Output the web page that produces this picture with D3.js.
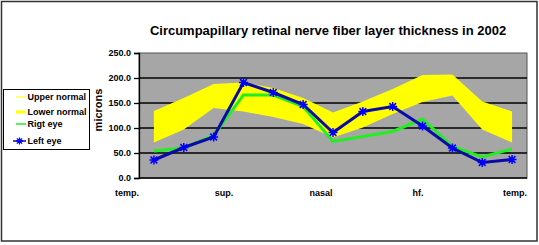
<!DOCTYPE html>
<html>
<head>
<meta charset="utf-8">
<script src="https://cdn.jsdelivr.net/npm/d3@7"></script>
<style>
  body { margin: 0; background: #fff; }
  text { font-family: "Liberation Sans", Arial, sans-serif; font-weight: bold; fill: #000; }
</style>
</head>
<body>
<svg width="539" height="245"></svg>
<script>
// sector index around the disc (13 measurement points)
const sectors = [1, 2, 3, 4, 5, 6, 7, 8, 9, 10, 11, 12, 13];
const upperNormal = [134, 160, 188, 191, 180, 160, 131, 153, 178, 206, 207, 153, 133];
const lowerNormal = [71, 97, 140, 133, 122, 108, 81, 101, 128, 152, 165, 97, 71];
const rightEye = [54, 60, 85, 166, 166, 143, 73, 83, 93, 118, 63, 42, 58];
const leftEye = [36, 61, 82, 191, 171, 147, 91, 133, 143, 104, 60, 31, 37];
const xLabels = ["temp.", "sup.", "nasal", "hf.", "temp."];
const yTicks = [0, 50, 100, 150, 200, 250];

const svg = d3.select("svg");
const plotL = 139, plotR = 527, plotT = 53, plotB = 178;

// outer chart frame
svg.append("rect")
  .attr("x", 1.5).attr("y", 1.5).attr("width", 535.5).attr("height", 239.5)
  .attr("fill", "#fff").attr("stroke", "#333").attr("stroke-width", 1.5);

let x = d3.scaleBand().domain(sectors).range([plotL, plotR]);
let y = d3.scaleLinear().domain([0, 250]).range([plotB, plotT]);
let xc = d => x(d) + x.bandwidth() / 2;

// plot area
svg.append("rect")
  .attr("x", plotL).attr("y", plotT).attr("width", plotR - plotL).attr("height", plotB - plotT)
  .attr("fill", "#a6a6a6").attr("stroke", "#555").attr("stroke-width", 1);

// gridlines
svg.append("g").selectAll("line")
  .data(yTicks.filter(d => d > 0 && d < 250))
  .enter().append("line")
  .attr("x1", plotL).attr("x2", plotR)
  .attr("y1", d => y(d)).attr("y2", d => y(d))
  .attr("stroke", "#000").attr("stroke-width", 1.3);

// normal band
let band = d3.area()
  .x((d, i) => xc(sectors[i]))
  .y0((d, i) => y(lowerNormal[i]))
  .y1(d => y(d));
svg.append("path")
  .attr("d", band(upperNormal))
  .attr("fill", "#ffff00");

// eye lines
let line = d3.line().x((d, i) => xc(sectors[i])).y(d => y(d));
svg.append("path").attr("d", line(rightEye))
  .attr("fill", "none").attr("stroke", "#22ee22").attr("stroke-width", 3);
svg.append("path").attr("d", line(leftEye))
  .attr("fill", "none").attr("stroke", "#0a0aa8").attr("stroke-width", 3);

// asterisk marker
function star(r) {
  let a = r * 0.75;
  return `M0,${-r}V${r}M${-r},0H${r}M${-a},${-a}L${a},${a}M${-a},${a}L${a},${-a}`;
}
svg.append("g").selectAll("path")
  .data(leftEye)
  .enter().append("path")
  .attr("transform", (d, i) => `translate(${xc(sectors[i])},${y(d)})`)
  .attr("d", star(4.5))
  .attr("stroke", "#0000ff").attr("stroke-width", 1.5).attr("fill", "none");

// y axis
let yAxis = d3.axisLeft(y).tickValues(yTicks).tickFormat(d3.format(".1f")).tickSize(5).tickPadding(3);
let gy = svg.append("g").attr("transform", `translate(${plotL},0)`).call(yAxis);
gy.select(".domain").attr("stroke", "#000").attr("stroke-width", 1.3);
gy.selectAll(".tick line").attr("stroke", "#000").attr("stroke-width", 1.3);
gy.selectAll("text").style("font-size", "9px").style("font-family", "Liberation Sans, Arial, sans-serif").style("font-weight", "bold").attr("fill", "#000");

// bottom axis line
svg.append("line")
  .attr("x1", plotL).attr("x2", plotR).attr("y1", plotB).attr("y2", plotB)
  .attr("stroke", "#000").attr("stroke-width", 1.3);

// category labels
let xl = d3.scalePoint().domain(d3.range(xLabels.length)).range([127, 515]);
svg.append("g").selectAll("text")
  .data(xLabels)
  .enter().append("text")
  .attr("x", (d, i) => xl(i)).attr("y", 196)
  .attr("text-anchor", "middle")
  .style("font-size", "9px")
  .text(d => d);

// title
svg.append("text")
  .attr("x", 328).attr("y", 35)
  .attr("text-anchor", "middle")
  .style("font-size", "13px")
  .text("Circumpapillary retinal nerve fiber layer thickness in 2002");

// y title
svg.append("text")
  .attr("transform", "translate(102,110) rotate(-90)")
  .attr("text-anchor", "middle")
  .style("font-size", "11px")
  .text("microns");

// legend
let lg = svg.append("g");
lg.append("rect")
  .attr("x", 3.5).attr("y", 89.5).attr("width", 86).attr("height", 60)
  .attr("fill", "#fff").attr("stroke", "#000").attr("stroke-width", 1);
let legendItems = [
  { name: "Upper normal", color: "#ffff00", w: 1, y: 97 },
  { name: "Lower normal", color: "#ffff00", w: 3, y: 112 },
  { name: "Rigt eye", color: "#22ee22", w: 1.5, y: 124 },
  { name: "Left eye", color: "#0a0aa8", w: 1.5, y: 141 }
];
legendItems.forEach((it, i) => {
  lg.append("line")
    .attr("x1", i == 3 ? 13 : 16).attr("x2", 26).attr("y1", it.y).attr("y2", it.y)
    .attr("stroke", it.color).attr("stroke-width", it.w);
  if (i == 3) {
    lg.append("path").attr("transform", `translate(19.5,${it.y})`)
      .attr("d", star(3.5)).attr("stroke", "#0000ff").attr("stroke-width", 1.3).attr("fill", "none");
  }
  lg.append("text").attr("x", 27.5).attr("y", it.y + 3.3)
    .style("font-size", "9px").text(it.name);
});
</script>
</body>
</html>
